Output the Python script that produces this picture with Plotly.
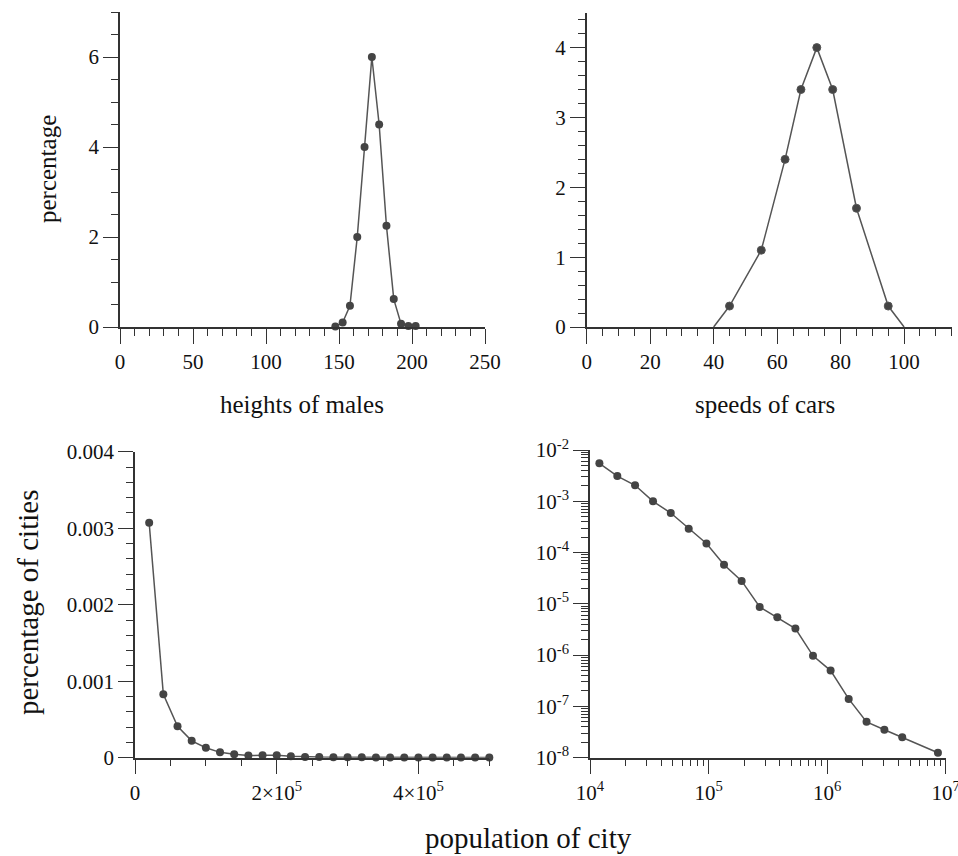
import plotly.graph_objects as go

# ---------------- data ----------------
height_x = [147.5, 152.5, 157.5, 162.5, 167.5, 172.5, 177.5, 182.5, 187.5, 192.5, 197.5, 202.5]
height_y = [0.01, 0.1, 0.47, 2.0, 4.0, 6.0, 4.5, 2.25, 0.62, 0.07, 0.02, 0.02]

speed_x = [40, 45, 55, 62.5, 67.5, 72.5, 77.5, 85, 95, 100]
speed_y = [0, 0.3, 1.1, 2.4, 3.4, 4.0, 3.4, 1.7, 0.3, 0]
speed_marker = [0, 8, 8, 8, 8, 8, 8, 8, 8, 0]

city_x = [20000, 40000, 60000, 80000, 100000, 120000, 140000, 160000, 180000, 200000,
          220000, 240000, 260000, 280000, 300000, 320000, 340000, 360000, 380000, 400000,
          420000, 440000, 460000, 480000, 500000]
city_y = [3.07e-3, 8.3e-4, 4.1e-4, 2.2e-4, 1.3e-4, 7e-5, 4.5e-5, 2.8e-5, 3.2e-5, 3.2e-5,
          1.8e-5, 1e-5, 8e-6, 7e-6, 6e-6, 5e-6, 4e-6, 3.5e-6, 3e-6, 2.5e-6,
          2e-6, 1.8e-6, 1.5e-6, 1.3e-6, 1e-6]

logcity_x = [12000, 17000, 24000, 34000, 48000, 68000, 96000, 135000, 190000, 270000,
             380000, 540000, 760000, 1070000, 1520000, 2150000, 3040000, 4300000, 8600000]
logcity_y = [5.5e-3, 3.1e-3, 2.05e-3, 1.0e-3, 5.9e-4, 2.9e-4, 1.5e-4, 5.8e-5, 2.8e-5, 8.7e-6,
             5.5e-6, 3.3e-6, 9.7e-7, 5.0e-7, 1.4e-7, 5.0e-8, 3.5e-8, 2.5e-8, 1.25e-8]

city_xticks = [0, 200000, 400000]
city_xticktext = ["0", "2×10<sup>5</sup>", "4×10<sup>5</sup>"]
city_yticks = [0, 0.001, 0.002, 0.003, 0.004]
city_yticktext = ["0", "0.001", "0.002", "0.003", "0.004"]
log_xticks = [1e4, 1e5, 1e6, 1e7]
log_xticktext = ["10<sup>4</sup>", "10<sup>5</sup>", "10<sup>6</sup>", "10<sup>7</sup>"]
log_yticks = [1e-8, 1e-7, 1e-6, 1e-5, 1e-4, 1e-3, 1e-2]
log_yticktext = ["10<sup>-8</sup>", "10<sup>-7</sup>", "10<sup>-6</sup>", "10<sup>-5</sup>",
                 "10<sup>-4</sup>", "10<sup>-3</sup>", "10<sup>-2</sup>"]

# ---------------- style ----------------
W, H = 958, 856
FONT = "Liberation Serif, Times New Roman, serif"
LINE = "#555555"
MARK = "#444444"
AX = "#333333"
TXT = "#111111"


def px(x):
    return x / W


def py(y):
    return 1 - y / H


def minor_log(lo, hi):
    vals = []
    for e in range(lo, hi):
        for m in range(2, 10):
            vals.append(m * 10 ** e)
    return vals


def axis(domain, rng, **kw):
    d = dict(domain=domain, range=rng, showgrid=False, zeroline=False, automargin=False,
             showline=True, linecolor=AX, linewidth=1.5, ticklabeloverflow="allow",
             ticks="outside", ticklen=15, tickwidth=1.3, tickcolor=AX,
             tickfont=dict(family=FONT, size=21, color=TXT),
             minor=dict(ticks="outside", ticklen=7, tickwidth=1.3, tickcolor=AX, showgrid=False))
    mn = kw.pop("minor_kw", None)
    d.update(kw)
    if mn:
        d["minor"].update(mn)
    return d


fig = go.Figure()

common = dict(mode="lines+markers", line=dict(color=LINE, width=1.5), cliponaxis=False,
              showlegend=False, hoverinfo="x+y")

fig.add_trace(go.Scatter(x=height_x, y=height_y, xaxis="x", yaxis="y",
                         marker=dict(color=MARK, size=8, opacity=1), **common))
fig.add_trace(go.Scatter(x=speed_x, y=speed_y, xaxis="x2", yaxis="y2",
                         marker=dict(color=MARK, size=speed_marker, opacity=1), **common))
fig.add_trace(go.Scatter(x=city_x, y=city_y, xaxis="x3", yaxis="y3",
                         marker=dict(color=MARK, size=8, opacity=1), **common))
fig.add_trace(go.Scatter(x=logcity_x, y=logcity_y, xaxis="x4", yaxis="y4",
                         marker=dict(color=MARK, size=8, opacity=1), **common))

fig.update_layout(
    width=W, height=H, autosize=False,
    margin=dict(l=0, r=0, t=0, b=0, pad=0, autoexpand=False),
    paper_bgcolor="white", plot_bgcolor="white",
    xaxis=axis([px(120), px(485)], [0, 250], anchor="y", dtick=50, tick0=0,
               minor_kw=dict(dtick=10)),
    yaxis=axis([py(327), py(12)], [0, 7], anchor="x", dtick=2, tick0=0,
               minor_kw=dict(dtick=0.5)),
    xaxis2=axis([px(586.7), px(951.7)], [0, 115], anchor="y2", dtick=20, tick0=0,
                minor_kw=dict(dtick=5)),
    yaxis2=axis([py(327), py(12.7)], [0, 4.5], anchor="x2", dtick=1, tick0=0,
                minor_kw=dict(dtick=0.2)),
    xaxis3=axis([px(135), px(489.3)], [0, 500000], anchor="y3", tickmode="array",
                tickvals=city_xticks, ticktext=city_xticktext,
                minor_kw=dict(dtick=50000, tick0=0)),
    yaxis3=axis([py(757.7), py(451.7)], [0, 0.004], anchor="x3", tickmode="array",
                tickvals=city_yticks, ticktext=city_yticktext,
                minor_kw=dict(dtick=0.0002, tick0=0)),
    xaxis4=axis([px(590), px(945.7)], [4, 7], anchor="y4", type="log", tickmode="array",
                tickvals=log_xticks, ticktext=log_xticktext,
                minor_kw=dict(tickmode="array", tickvals=minor_log(4, 7))),
    yaxis4=axis([py(757.7), py(450)], [-8, -2], anchor="x4", type="log", tickmode="array",
                tickvals=log_yticks, ticktext=log_yticktext,
                minor_kw=dict(tickmode="array", tickvals=minor_log(-8, -2))),
)

ann_font_s = dict(family=FONT, size=25, color=TXT)
ann_font_l = dict(family=FONT, size=29, color=TXT)
fig.add_annotation(text="heights of males", x=px(302), y=py(404), xref="paper", yref="paper",
                   showarrow=False, font=ann_font_s, xanchor="center", yanchor="middle")
fig.add_annotation(text="speeds of cars", x=px(765), y=py(404), xref="paper", yref="paper",
                   showarrow=False, font=ann_font_s, xanchor="center", yanchor="middle")
fig.add_annotation(text="percentage", x=px(48), y=py(169), xref="paper", yref="paper",
                   showarrow=False, font=ann_font_s, textangle=-90,
                   xanchor="center", yanchor="middle")
fig.add_annotation(text="percentage of cities", x=px(28), y=py(603), xref="paper", yref="paper",
                   showarrow=False, font=ann_font_l, textangle=-90,
                   xanchor="center", yanchor="middle")
fig.add_annotation(text="population of city", x=px(528), y=py(838), xref="paper", yref="paper",
                   showarrow=False, font=ann_font_l, xanchor="center", yanchor="middle")

fig.write_html("out.html")
